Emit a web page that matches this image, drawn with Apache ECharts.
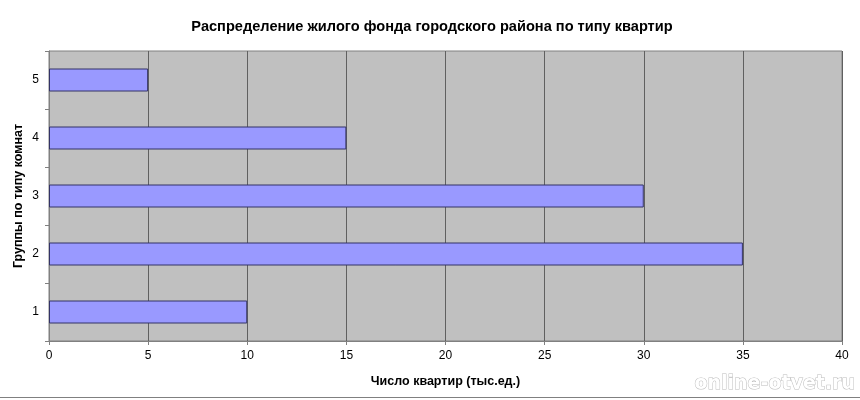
<!DOCTYPE html>
<html><head><meta charset="utf-8">
<script src="https://cdn.jsdelivr.net/npm/echarts@6/dist/echarts.min.js"></script>
<style>html,body{margin:0;padding:0;background:#fff}#c{width:860px;height:400px}</style>
</head><body><div id="c"></div>
<script>
const categories = ['1', '2', '3', '4', '5'];
const values = [10, 35, 30, 15, 5];
const xTicks = [0, 5, 10, 15, 20, 25, 30, 35, 40];

const chart = echarts.init(document.getElementById('c'), null, {renderer: 'canvas'});
chart.setOption({
  animation: false,
  backgroundColor: '#ffffff',
  title: {
    text: 'Распределение жилого фонда городского района по типу квартир',
    left: 427, top: 14, textAlign: 'center',
    textStyle: {fontFamily: 'Liberation Sans', fontSize: 14.6, fontWeight: 'bold', color: '#000'}
  },
  grid: {left: 49, right: 18, top: 51, bottom: 59, show: true, outerBoundsMode: 'none', containLabel: false,
         backgroundColor: '#C0C0C0', borderColor: '#808080', borderWidth: 1},
  xAxis: {
    type: 'value', min: xTicks[0], max: xTicks[xTicks.length - 1], interval: 5,
    name: 'Число квартир (тыс.ед.)', nameLocation: 'middle', nameGap: 34,
    nameTextStyle: {fontFamily: 'Liberation Sans', fontSize: 12.5, fontWeight: 'bold', color: '#000'},
    axisLine: {show: true, lineStyle: {color: '#808080', width: 1}},
    axisTick: {show: true, length: 4, lineStyle: {color: '#808080'}},
    axisLabel: {fontFamily: 'Liberation Sans', fontSize: 12, color: '#000', margin: 9},
    splitLine: {show: true, lineStyle: {color: '#606060', width: 1}}
  },
  yAxis: {
    type: 'category', data: categories,
    name: 'Группы по типу комнат', nameLocation: 'middle', nameGap: 24, nameRotate: 90,
    nameMoveOverlap: false,
    nameTextStyle: {fontFamily: 'Liberation Sans', fontSize: 12.5, fontWeight: 'bold', color: '#000'},
    axisLine: {show: true, lineStyle: {color: '#808080', width: 1}},
    axisTick: {show: true, length: 4, lineStyle: {color: '#808080'}},
    axisLabel: {fontFamily: 'Liberation Sans', fontSize: 12, color: '#000', margin: 10},
    splitLine: {show: false}
  },
  series: [{
    type: 'bar', data: values, barWidth: 23,
    itemStyle: {color: '#9999FF', borderColor: '#333366', borderWidth: 1}
  }],
  graphic: [
    {type: 'line', shape: {x1: 0, y1: 397.5, x2: 860, y2: 397.5}, style: {stroke: '#808080', lineWidth: 1}, z: 100},
    {type: 'text', x: 855, y: 384, z: 100,
     style: {text: 'online-otvet.ru', font: 'bold 19px "DejaVu Sans"', fill: '#ffffff',
             align: 'right', verticalAlign: 'middle',
             stroke: 'rgba(120,120,120,0.5)', lineWidth: 1,
             shadowColor: 'rgba(0,0,0,0.95)', shadowBlur: 5, shadowOffsetX: 1, shadowOffsetY: 1}}
  ]
});
</script></body></html>
